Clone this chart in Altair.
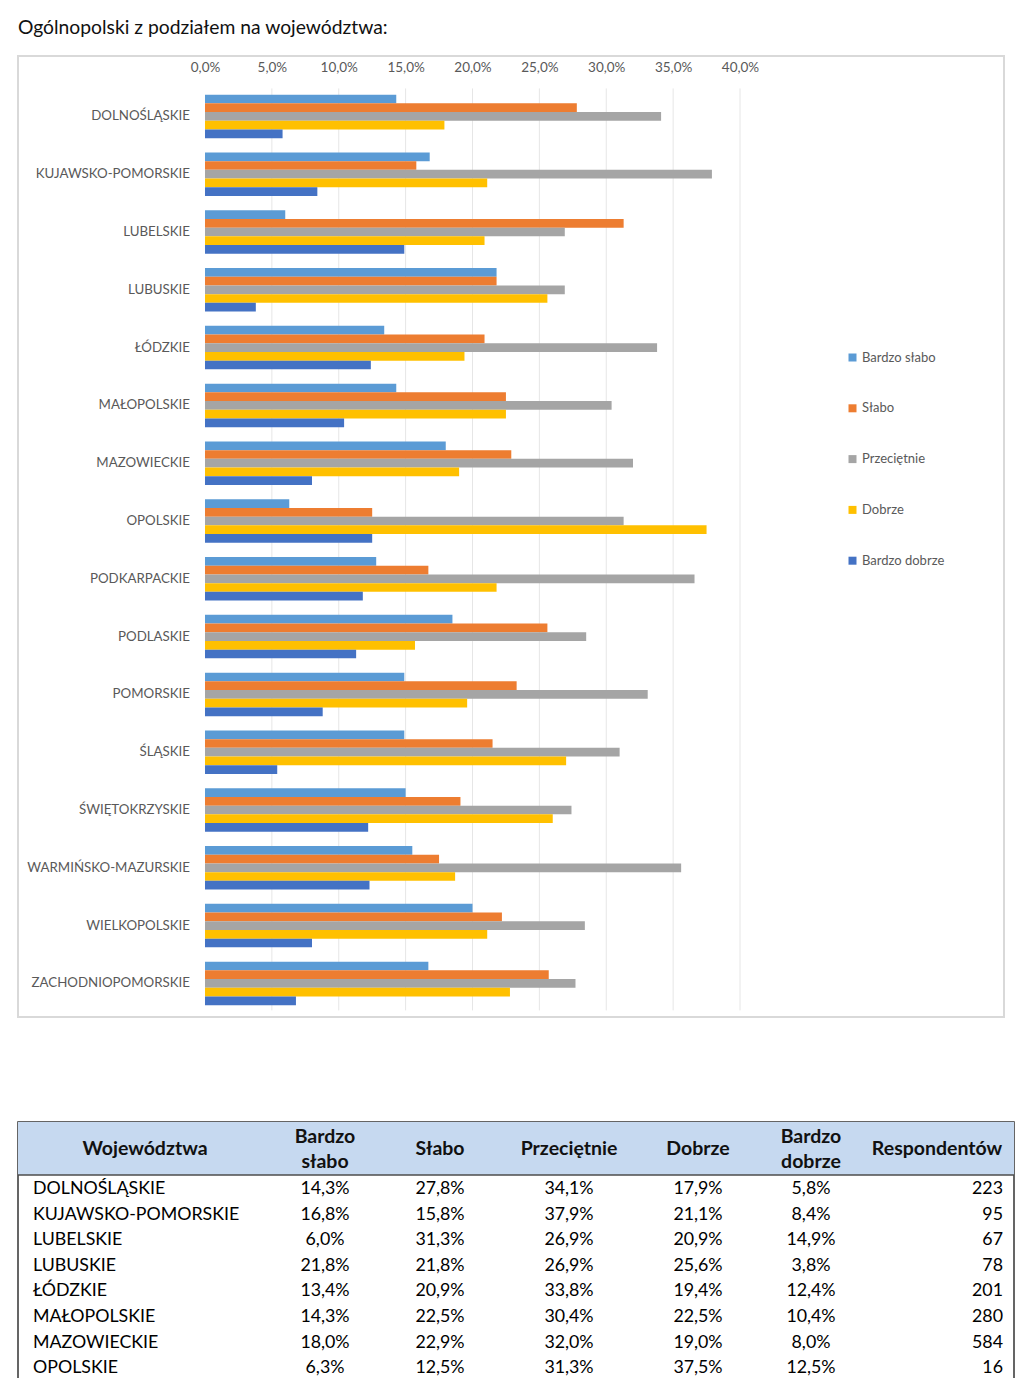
import altair as alt
import pandas as pd

# ---------------- data ----------------
regions = ["DOLNOŚLĄSKIE", "KUJAWSKO-POMORSKIE", "LUBELSKIE", "LUBUSKIE", "ŁÓDZKIE",
           "MAŁOPOLSKIE", "MAZOWIECKIE", "OPOLSKIE", "PODKARPACKIE", "PODLASKIE",
           "POMORSKIE", "ŚLĄSKIE", "ŚWIĘTOKRZYSKIE", "WARMIŃSKO-MAZURSKIE",
           "WIELKOPOLSKIE", "ZACHODNIOPOMORSKIE"]
series_names = ["Bardzo słabo", "Słabo", "Przeciętnie", "Dobrze", "Bardzo dobrze"]
bardzo_slabo = [14.3, 16.8, 6.0, 21.8, 13.4, 14.3, 18.0, 6.3, 12.8, 18.5, 14.9, 14.9, 15.0, 15.5, 20.0, 16.7]
slabo = [27.8, 15.8, 31.3, 21.8, 20.9, 22.5, 22.9, 12.5, 16.7, 25.6, 23.3, 21.5, 19.1, 17.5, 22.2, 25.7]
przecietnie = [34.1, 37.9, 26.9, 26.9, 33.8, 30.4, 32.0, 31.3, 36.6, 28.5, 33.1, 31.0, 27.4, 35.6, 28.4, 27.7]
dobrze = [17.9, 21.1, 20.9, 25.6, 19.4, 22.5, 19.0, 37.5, 21.8, 15.7, 19.6, 27.0, 26.0, 18.7, 21.1, 22.8]
bardzo_dobrze = [5.8, 8.4, 14.9, 3.8, 12.4, 10.4, 8.0, 12.5, 11.8, 11.3, 8.8, 5.4, 12.2, 12.3, 8.0, 6.8]
respondentow = [223, 95, 67, 78, 201, 280, 584, 16]
x_ticks = [0, 5, 10, 15, 20, 25, 30, 35, 40]

title_text = "Ogólnopolski z podziałem na województwa:"
table_header = ["Województwa", ["Bardzo", "słabo"], "Słabo", "Przeciętnie", "Dobrze",
                ["Bardzo", "dobrze"], "Respondentów"]

# ---------------- styling / layout ----------------
FONT = "Lato"
colors = ["#5B9BD5", "#ED7D31", "#A5A5A5", "#FFC000", "#4472C4"]
TXT = "#595959"
BAR_STEP = 0.1505   # bar offset inside a group, in group units
BAR_SIZE = 8.7

xscale = alt.Scale(domain=[-13.981, 59.738], nice=False, zero=False, padding=0)
yscale = alt.Scale(domain=[-1.045, 15.581], reverse=True, nice=False, zero=False, padding=0)

x_axis = alt.Axis(orient="top", values=x_ticks, grid=False, domain=False, ticks=False,
                  offset=-18, labelPadding=0, labelFont=FONT, labelFontSize=13.5,
                  labelColor=TXT, title=None,
                  labelExpr="replace(format(datum.value, '.1f'), '.', ',') + '%'")

series_vals = [bardzo_slabo, slabo, przecietnie, dobrze, bardzo_dobrze]
rows = []
for i, r in enumerate(regions):
    for s, (name, vals) in enumerate(zip(series_names, series_vals)):
        rows.append({"region": r, "series": name, "value": vals[i],
                     "pos": i + (s - 2) * BAR_STEP})
df = pd.DataFrame(rows)
df_reg = pd.DataFrame({"region": regions, "idx": list(range(len(regions)))})
df_grid = pd.DataFrame({"t": x_ticks[1:]})

grid = alt.Chart(df_grid).mark_rule(color="#e6e6e6", strokeWidth=1).encode(
    x=alt.X("t:Q", scale=xscale, axis=x_axis),
    y=alt.Y(datum=-0.484, scale=yscale, axis=None),
    y2=alt.Y2(datum=15.467),
)

bars = alt.Chart(df).mark_bar(size=BAR_SIZE).encode(
    x=alt.X("value:Q", scale=xscale, axis=x_axis),
    x2=alt.X2(datum=0),
    y=alt.Y("pos:Q", scale=yscale, axis=None),
    color=alt.Color("series:N", scale=alt.Scale(domain=series_names, range=colors),
                    legend=alt.Legend(orient="none", legendX=828, legendY=295, title=None,
                                      symbolType="square", symbolSize=64, symbolStrokeWidth=0,
                                      labelFont=FONT, labelFontSize=13, labelColor=TXT,
                                      rowPadding=36.8, labelOffset=3)),
)

labels = alt.Chart(df_reg).mark_text(align="right", baseline="middle", font=FONT,
                                     fontSize=13.3, color=TXT).encode(
    x=alt.value(172),
    y=alt.Y("idx:Q", scale=yscale, axis=None),
    text="region:N",
)

chart_a = alt.layer(grid, bars, labels).properties(
    width=986, height=961,
    title=alt.TitleParams(title_text, anchor="start", fontSize=19.3, font=FONT,
                          fontWeight="normal", color="#111111", offset=18),
    view=alt.ViewBackground(stroke="#d9d9d9", strokeWidth=2),
)

# ---------------- table ----------------
n_rows = len(respondentow)
tdf = pd.DataFrame({
    "region": regions[:n_rows], "row": list(range(n_rows)),
    "c0": bardzo_slabo[:n_rows], "c1": slabo[:n_rows], "c2": przecietnie[:n_rows],
    "c3": dobrze[:n_rows], "c4": bardzo_dobrze[:n_rows], "resp": respondentow,
})
TW, TH = 996, 265
ROW_PX = 25.6
t_d0 = -2.617
tyscale = alt.Scale(domain=[t_d0, t_d0 + TH / ROW_PX], reverse=True, nice=False,
                    zero=False, padding=0)
HDR_BOTTOM = -0.547
HDR_MID = -1.562
HDR_TWO_LINE = -2.031
col_x = [127, 307, 422, 551, 680, 793, 919]
one = pd.DataFrame({"a": [0]})

layers = [
    alt.Chart(one).mark_rect(color="#C6D9F0").encode(
        x=alt.value(0), x2=alt.value(TW),
        y=alt.Y(datum=t_d0, scale=tyscale, axis=None), y2=alt.Y2(datum=HDR_BOTTOM)),
    alt.Chart(one).mark_rule(color="#4d4d4d", strokeWidth=1.5).encode(
        x=alt.value(0), x2=alt.value(TW),
        y=alt.Y(datum=HDR_BOTTOM, scale=tyscale, axis=None)),
]
for lab, cx in zip(table_header, col_x):
    ypos = HDR_TWO_LINE if isinstance(lab, list) else HDR_MID
    layers.append(alt.Chart(one).mark_text(align="center", baseline="middle", font=FONT,
                                           fontSize=19.5, fontWeight="bold", color="#111111",
                                           lineHeight=25).encode(
        x=alt.value(cx), y=alt.Y(datum=ypos, scale=tyscale, axis=None),
        text=alt.value(lab)))

layers.append(alt.Chart(tdf).mark_text(align="left", baseline="middle", font=FONT,
                                       fontSize=17.8, color="#000000").encode(
    x=alt.value(15), y=alt.Y("row:Q", scale=tyscale, axis=None), text="region:N"))
for k in range(5):
    layers.append(alt.Chart(tdf).transform_calculate(
        lbl=f"replace(format(datum.c{k}, '.1f'), '.', ',') + '%'"
    ).mark_text(align="center", baseline="middle", font=FONT, fontSize=17.8,
                color="#000000").encode(
        x=alt.value(col_x[k + 1]), y=alt.Y("row:Q", scale=tyscale, axis=None),
        text="lbl:N"))
layers.append(alt.Chart(tdf).mark_text(align="right", baseline="middle", font=FONT,
                                       fontSize=17.8, color="#000000").encode(
    x=alt.value(985), y=alt.Y("row:Q", scale=tyscale, axis=None), text="resp:Q"))

table = alt.layer(*layers).properties(
    width=TW, height=TH,
    view=alt.ViewBackground(stroke="#333333", strokeWidth=1.5),
)

chart = alt.vconcat(chart_a, table, spacing=103).properties(
    padding={"left": 8, "top": 9, "right": 0, "bottom": 0},
).configure(font=FONT)

chart.save("out.html", embed_options={"renderer": "svg", "actions": False})
